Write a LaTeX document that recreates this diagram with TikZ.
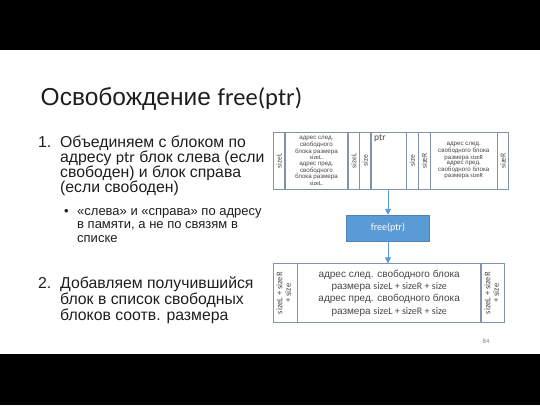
\documentclass[tikz,border=0pt]{standalone}
\usepackage{fontspec}
\setmainfont{Liberation Sans}
\newfontfamily\cfont{Carlito}
\usetikzlibrary{arrows.meta,positioning}
\definecolor{cellline}{RGB}{128,148,176}
\definecolor{freeblue}{RGB}{91,155,213}
\definecolor{celltext}{RGB}{70,70,70}
\definecolor{bodytext}{RGB}{30,30,30}
\tikzset{
  cell/.style={draw=cellline, line width=0.7pt, anchor=north west, inner sep=0pt,
    minimum height=57pt, text=celltext, align=center},
  lowcell/.style={cell, minimum height=59pt},
  tinytext/.style={font=\fontsize{6.2}{5.5}\selectfont},
  vlab/.style={font=\cfont\fontsize{7.6}{8}\selectfont},
  vlabbig/.style={font=\cfont\fontsize{8.6}{8.4}\selectfont},
  freebox/.style={fill=freeblue, draw=freeblue!85!black, line width=0.5pt,
    minimum width=82.6pt, minimum height=26pt, text=white,
    font=\cfont\fontsize{10}{12}\selectfont},
  arr/.style={draw=freeblue, line width=1pt, -{Triangle[length=6pt,width=6pt]}},
  listtext/.style={anchor=base west, inner sep=0pt, align=left, text=bodytext},
}
\begin{document}
\begin{tikzpicture}[x=1pt,y=-1pt]
\useasboundingbox (0,0) rectangle (540,405);
\fill[black] (0,0) rectangle (540,50);
\fill[black] (0,354) rectangle (540,405);

% title
\node[anchor=base west, inner sep=0pt, font=\fontsize{24.5}{27}\selectfont, text=bodytext] (title)
  at (40.5,105) {Освобождение {\cfont free(ptr)}};

% list on the left (base = last line)
\node[listtext, font=\fontsize{15.8}{15.2}\selectfont] (num1) at (38,147.3) {1.};
\node[listtext, font=\fontsize{15.8}{15.2}\selectfont] (item1) at (60,192.9)
  {Объединяем с блоком по\\адресу {\cfont ptr} блок слева (если\\свободен) и блок справа\\(если свободен)};
\node[listtext, font=\fontsize{13}{13.8}\selectfont] (dot1) at (64,215) {•};
\node[listtext, font=\fontsize{13}{13.8}\selectfont] (sub1) at (77,242.6)
  {«слева» и «справа» по адресу\\в памяти, а не по связям в\\списке};
\node[listtext, font=\fontsize{15.8}{16.3}\selectfont] (num2) at (38,288.3) {2.};
\node[listtext, font=\fontsize{15.8}{16.3}\selectfont] (item2) at (60,320.9)
  {Добавляем получившийся\\блок в список свободных\\блоков соотв. размера};

% memory before
\node[cell, vlab, minimum width=10.7pt] (t1) at (273.3,132) {\rotatebox{90}{sizeL}};
\node[cell, tinytext, minimum width=62.7pt] (t2) at (t1.north east)
  {адрес след.\\свободного\\блока размера\\{\cfont sizeL.}\\адрес пред.\\свободного\\блока размера\\{\cfont sizeL.}};
\node[cell, vlab, minimum width=10.6pt] (t3) at (t2.north east) {\rotatebox{90}{sizeL}};
\node[cell, vlab, minimum width=11pt] (t4) at (t3.north east) {\rotatebox{90}{size}};
\node[cell, minimum width=34.4pt] (t5) at (t4.north east) {};
\node[cell, vlab, minimum width=11.3pt] (t6) at (t5.north east) {\rotatebox{90}{size}};
\node[cell, vlab, minimum width=11.3pt] (t7) at (t6.north east) {\rotatebox{90}{sizeR}};
\node[cell, tinytext, minimum width=66.4pt] (t8) at (t7.north east)
  {адрес след.\\свободного блока\\размера {\cfont sizeR}\\адрес пред.\\свободного блока\\размера {\cfont sizeR}};
\node[cell, vlab, minimum width=11pt] (t9) at (t8.north east) {\rotatebox{90}{sizeR}};
\node[anchor=north west, inner sep=0pt, text=celltext, font=\cfont\fontsize{9.5}{11}\selectfont]
  (ptrlab) at (374,134.5) {ptr};

% free
\node[freebox] (free) at (388,228) {free(ptr)};

% memory after
\node[lowcell, vlabbig, minimum width=24.2pt] (b1) at (272.5,263.3)
  {\rotatebox{90}{\begin{tabular}{@{}c@{}}sizeL + sizeR\\+ size\end{tabular}}};
\node[lowcell, font=\fontsize{10}{12.2}\selectfont, minimum width=182.8pt] (b2) at (b1.north east)
  {адрес след. свободного блока\\размера {\cfont sizeL + sizeR + size}\\адрес пред. свободного блока\\размера {\cfont sizeL + sizeR + size}};
\node[lowcell, vlabbig, minimum width=23.2pt] (b3) at (b2.north east)
  {\rotatebox{90}{\begin{tabular}{@{}c@{}}sizeL + sizeR\\+ size\end{tabular}}};

\draw[arr] (free.north |- t5.south) -- (free.north);
\draw[arr] (free.south) -- (free.south |- b2.north);

\node[inner sep=0pt, text=gray, font=\cfont\fontsize{6.5}{7}\selectfont] (pagenum) at (486,341) {84};
\end{tikzpicture}
\end{document}
